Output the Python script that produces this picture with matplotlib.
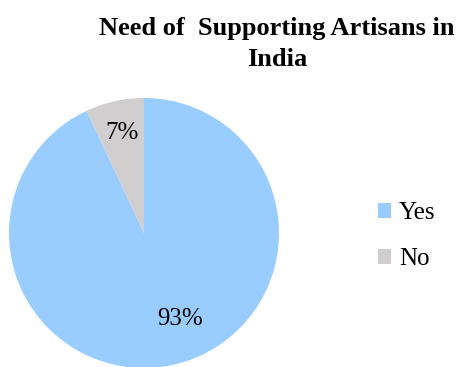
import matplotlib
matplotlib.use("Agg")
import matplotlib.pyplot as plt
import numpy as np

categories = ["Yes", "No"]
values = [93, 7]
colors = ["#99CCFF", "#D0CECE"]
title = "Need of  Supporting Artisans in\nIndia"

plt.rcParams['font.family'] = ['Liberation Serif', 'DejaVu Serif']

fig = plt.figure(figsize=(4.59, 3.67), dpi=100)
ax = fig.add_axes([9/459, -1/367, 270/459, 270/367])
wedges, texts, autotexts = ax.pie(values, colors=colors, startangle=90, counterclock=False,
                                  autopct='%1.0f%%', pctdistance=0.76,
                                  textprops={'fontsize': 18, 'color': 'black'})
# Yes label placed like original (best fit)
ang = np.deg2rad(-67.5)
autotexts[0].set_position((0.69*np.cos(ang), 0.69*np.sin(ang)))
ax.set_xlim(-1, 1)
ax.set_ylim(-1, 1)
ax.set_aspect('equal')

fig.text(277/459, 1 - 44/367, title, ha='center', va='center', fontsize=19,
         fontweight='bold', linespacing=1.4)

leg = fig.legend(wedges, categories, loc='center left', bbox_to_anchor=(355/459, 1 - 236/367),
                 frameon=False, fontsize=18, handlelength=0.55, handleheight=0.55,
                 handletextpad=0.3, labelspacing=0.95)

fig.savefig("out.png", dpi=100)
